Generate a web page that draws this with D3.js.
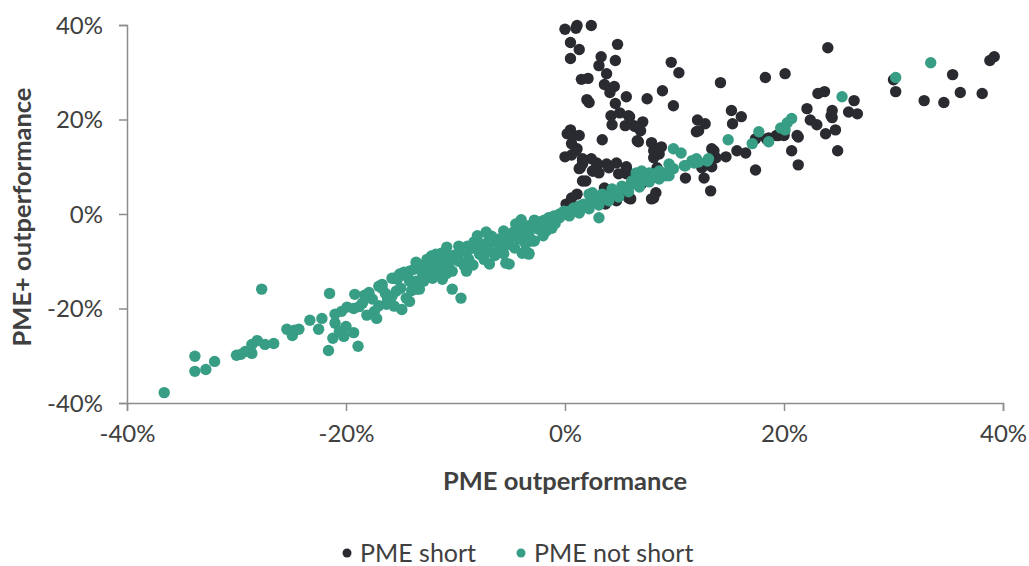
<!DOCTYPE html>
<html>
<head>
<meta charset="utf-8">
<script src="https://cdn.jsdelivr.net/npm/d3@7"></script>
<style>
  body { margin: 0; background: #fff; }
  svg text { font-family: Lato, "Open Sans", sans-serif; fill: #404040; }
</style>
</head>
<body>
<script>
// size of the drawing
const width = 1029;
const height = 566;

// plot area
const margin = { top: 25, right: 26, bottom: 163, left: 127 };

// axis ticks
const xTicks = [-0.4, -0.2, 0, 0.2, 0.4];
const yTicks = [-0.4, -0.2, 0, 0.2, 0.4];

// series names
const seriesNames = ['PME short', 'PME not short'];
const seriesColors = ['#2a2b30', '#379e85'];

// PME short: [PME outperformance %, PME+ outperformance %]
const shortPoints = [
  [0.0, 39.1], [1.1, 39.9], [1.0, 39.3], [2.4, 39.9], [0.5, 36.3], [1.3, 34.8], [0.5, 32.9],
  [4.8, 35.9], [3.3, 33.3], [3.1, 31.4], [4.6, 32.5], [3.8, 29.7], [1.5, 28.5], [2.1, 28.7],
  [3.6, 27.4], [4.5, 27.0], [4.1, 25.7], [5.6, 24.8], [2.0, 24.2], [2.2, 23.6], [4.6, 23.4],
  [7.5, 24.4], [8.9, 26.1], [9.7, 32.1], [10.4, 29.9], [9.9, 22.9], [14.2, 27.8], [18.3, 28.9],
  [4.2, 20.8], [5.0, 21.4], [5.9, 20.6], [4.3, 18.9], [5.5, 18.7], [6.4, 18.5], [7.1, 19.5],
  [6.9, 17.6], [12.1, 19.9], [12.8, 19.1], [12.0, 17.4], [15.2, 21.9], [16.1, 20.6], [15.3, 19.1],
  [0.5, 17.8], [0.8, 16.6], [0.2, 17.0], [1.3, 16.6], [3.4, 15.7], [6.7, 15.3], [7.9, 15.1],
  [8.8, 14.2], [0.6, 14.9], [1.1, 13.8], [0.0, 12.1], [0.6, 12.5], [1.6, 11.7], [2.4, 11.7],
  [2.9, 10.8], [3.8, 10.6], [4.7, 10.8], [5.6, 10.0], [1.4, 9.8], [2.6, 9.1], [2.9, 10.2],
  [8.1, 13.4], [8.1, 11.9], [8.4, 9.8], [13.4, 13.8], [14.7, 12.1], [15.7, 13.4], [16.5, 12.9],
  [17.4, 15.9], [18.6, 16.1], [17.4, 9.3], [11.0, 7.6], [12.7, 7.6], [13.3, 4.9], [12.5, 9.8],
  [1.9, 7.0], [1.1, 4.2], [0.4, 2.1], [6.0, 3.2], [8.1, 3.4], [4.9, 8.5], [5.6, 8.5], [7.0, 8.5],
  [24.0, 35.2], [20.1, 29.7], [23.1, 25.5], [23.7, 25.9], [26.4, 24.0], [22.1, 22.3], [24.4, 21.9],
  [24.4, 20.4], [25.9, 21.6], [26.7, 21.2], [22.4, 19.9], [23.0, 18.9], [23.8, 17.0], [24.7, 17.8],
  [21.3, 16.3], [20.7, 13.4], [21.3, 10.4], [24.9, 13.4], [18.4, 15.9], [19.3, 16.6], [20.0, 16.6],
  [30.0, 28.4], [30.2, 25.9], [32.8, 24.0], [34.6, 23.6], [35.4, 29.5], [36.1, 25.7], [38.1, 25.5],
  [38.8, 32.5], [39.2, 33.3],
  [12.2, 17.6], [13.8, 11.9], [13.4, 10.0], [19.5, 16.6], [20.0, 17.2], [21.2, 16.6], [24.3, 20.8],
  [1.0, 13.4], [1.6, 11.3], [1.3, 9.6], [2.5, 9.1], [3.1, 8.7], [5.6, 9.6], [3.6, 5.5], [4.9, 3.8],
  [6.1, 6.6], [3.7, 2.1], [4.7, 2.8], [6.3, 8.1], [5.8, 20.8], [6.3, 18.7], [6.6, 15.5], [8.6, 12.7],
  [13.6, 13.4], [1.6, 7.0], [1.6, 10.6], [4.0, 9.8], [7.0, 6.4], [8.3, 4.5], [7.9, 3.2], [5.8, 3.4],
  [4.7, 3.2], [0.1, 2.1], [0.6, 3.4]
];

// PME not short: [PME outperformance %, PME+ outperformance %]
const notShortPoints = [
  [-36.6, -37.8], [-33.8, -30.1], [-33.8, -33.3], [-32.8, -32.9], [-32.0, -31.2], [-27.7, -15.9],
  [-30.0, -29.9], [-29.6, -29.7], [-29.2, -29.1], [-28.6, -29.5], [-28.6, -27.6], [-28.1, -26.8],
  [-27.4, -27.6], [-26.6, -27.4], [-25.4, -24.4], [-24.9, -25.7], [-24.7, -24.6], [-24.3, -24.4],
  [-23.3, -22.5], [-22.2, -22.1], [-22.5, -24.4], [-21.5, -16.8], [-21.6, -28.9], [-21.2, -26.3],
  [-21.0, -23.1], [-21.0, -21.2], [-20.6, -24.8], [-20.0, -23.8], [-20.2, -25.9], [-19.3, -25.1],
  [-18.9, -28.0], [-19.9, -19.7], [-20.4, -20.6], [-19.3, -20.0], [-19.2, -17.0], [-18.3, -17.2],
  [-18.5, -18.9], [-17.6, -18.0], [-18.1, -21.4], [-17.2, -22.1], [-17.4, -20.6], [-17.0, -15.3],
  [-16.7, -15.7], [-15.8, -13.6], [-16.1, -18.5], [-15.6, -19.5], [-16.2, -18.0], [-16.3, -19.1],
  [-15.3, -13.8], [-15.4, -16.3], [-15.0, -15.7], [-14.5, -17.8], [-14.9, -20.2], [-14.2, -18.5],
  [-14.4, -13.2], [-13.6, -15.9], [-13.6, -14.2], [-13.0, -12.5], [-12.9, -14.2], [-12.2, -8.9],
  [-12.1, -11.5], [-12.4, -12.5], [-11.8, -8.5], [-11.8, -12.7], [-13.3, -15.9], [-12.9, -12.1],
  [-12.1, -13.6], [-11.3, -8.3], [-10.3, -15.9], [-9.5, -17.8], [-10.3, -12.1], [-9.0, -12.1],
  [-9.9, -9.3], [-8.9, -6.8], [-7.8, -7.4], [-6.9, -10.6], [-6.7, -4.7], [-6.0, -6.4], [-5.4, -10.4],
  [-5.7, -7.9], [-5.1, -5.1], [-4.5, -2.1], [-3.9, -8.3], [-3.3, -8.3], [-3.9, -5.1], [-3.3, -3.6],
  [-3.0, -5.7], [-2.4, -2.1], [-1.7, -3.6], [-1.5, -1.1], [-1.2, -3.0], [-0.5, -0.8], [0.1, 0.0],
  [0.6, 0.6], [1.6, 1.3], [2.2, 2.1], [2.8, 2.8], [2.2, 4.2], [3.1, -0.8], [0.4, 0.6], [1.3, 1.7],
  [2.5, 4.5], [3.4, 4.2], [4.3, 5.3], [5.2, 5.9], [6.1, 7.0], [6.8, 8.1], [7.7, 8.7], [8.6, 9.1],
  [9.2, 8.1], [9.5, 10.6], [11.0, 10.2], [11.6, 11.3], [7.0, 9.1], [8.1, 8.5], [6.5, 8.7],
  [-16.7, -14.9], [-15.6, -13.6], [-5.1, -10.6], [-3.3, -8.5], [-2.8, -5.7],
  [-11.0, -9.1], [-10.6, -8.9], [-10.1, -8.7], [-9.7, -8.3], [-9.2, -7.9], [-8.8, -7.6], [-8.3, -7.2],
  [-7.8, -6.8], [-7.4, -6.4], [-6.9, -6.2], [-6.5, -5.7], [-6.0, -5.3], [-5.6, -4.9], [-5.1, -4.5],
  [-4.7, -3.8], [-4.2, -3.4], [-3.7, -3.0], [-3.3, -2.5], [-2.8, -2.1], [-2.4, -1.7], [-1.9, -1.3],
  [-1.5, -0.8], [-1.0, -0.4], [-0.5, 0.0],
  [-10.6, -10.6], [-9.7, -10.0], [-8.8, -9.6], [-7.8, -8.5], [-6.9, -7.9], [-6.0, -7.0], [-5.1, -6.4],
  [-4.2, -5.3], [-3.3, -4.2], [-2.4, -3.2], [-1.5, -2.3], [-9.7, -6.8], [-8.3, -5.9], [-6.9, -4.9],
  [-5.6, -3.6], [-4.2, -2.5], [-2.8, -1.3],
  [-15.1, -12.7], [-14.7, -12.3], [-14.2, -12.1], [-13.8, -11.7], [-13.3, -11.3], [-12.9, -10.8],
  [-12.4, -10.4], [-12.0, -10.0], [-11.5, -9.6], [-14.2, -14.2], [-12.4, -12.1], [-11.0, -11.0],
  [-0.1, 0.6], [0.8, 1.3], [1.7, 2.1], [2.6, 3.0], [3.6, 3.8], [4.5, 4.7], [5.4, 5.5], [6.3, 6.4],
  [7.2, 7.2], [8.1, 7.9], [9.0, 8.7], [9.9, 9.6], [10.9, 10.2], [11.8, 10.8], [12.2, 11.0],
  [0.4, -0.4], [1.3, 0.2], [2.2, 1.1], [3.1, 1.9], [4.0, 2.8], [4.9, 3.6], [5.8, 4.7], [6.8, 5.7],
  [7.7, 6.8], [8.6, 7.4], [9.5, 8.1], [13.1, 11.7],
  [9.9, 13.8], [10.6, 12.9], [14.9, 15.7], [17.7, 17.4], [17.1, 14.9], [18.6, 15.3], [19.7, 18.2],
  [20.3, 19.3], [20.7, 20.2], [20.1, 17.8], [13.0, 11.2], [12.0, 11.7], [25.3, 24.8], [30.2, 28.9],
  [33.4, 32.0],
  [-11.4, -11.8], [-10.8, -12.6], [-9.2, -11.0], [-8.4, -10.8], [-7.4, -9.6], [-6.4, -8.8],
  [-5.6, -8.4], [-4.6, -7.2], [-3.6, -6.4], [-2.0, -4.6], [-0.9, -2.0], [-8.0, -4.6], [-10.8, -7.0],
  [-7.2, -3.8], [-4.0, -1.2], [-16.4, -16.8], [-15.8, -17.4], [-14.0, -16.2], [-13.0, -13.4],
  [-11.2, -13.8], [-13.6, -10.2], [-12.6, -9.6], [-17.9, -16.6], [-18.8, -19.6], [-17.0, -19.4]
];

const svg = d3.select('body').append('svg').attr('width', width).attr('height', height);

const x = d3.scaleLinear().domain([-0.4, 0.4]).range([margin.left, width - margin.right]);
const y = d3.scaleLinear().domain([-0.4, 0.4]).range([height - margin.bottom, margin.top]);

// plain hyphen for the minus sign, like the original
const pct = function(d){ return d3.format('.0%')(d).replace('\u2212', '-'); };

// x axis at the bottom
const xAxis = svg.append('g')
  .attr('transform', 'translate(0,' + (height - margin.bottom) + ')')
  .call(d3.axisBottom(x).tickValues(xTicks).tickFormat(pct).tickSize(8).tickPadding(14));

// y axis on the left
const yAxis = svg.append('g')
  .attr('transform', 'translate(' + margin.left + ',0)')
  .call(d3.axisLeft(y).tickValues(yTicks).tickFormat(pct).tickSize(8).tickPadding(16));

[xAxis, yAxis].forEach(function(g){
  g.select('.domain').attr('stroke', '#8c8c8c').attr('stroke-width', 1.5);
  g.selectAll('.tick line').attr('stroke', '#8c8c8c').attr('stroke-width', 1.5);
  g.selectAll('.tick text').attr('font-size', '24px').attr('fill', '#404040')
    .style('font-family', 'Lato, "Open Sans", sans-serif');
});
yAxis.selectAll('.tick text').attr('dy', '0.35em');

// points, short first so the green ones sit on top
const series = [shortPoints, notShortPoints];
series.forEach(function(pts, i){
  svg.append('g').selectAll('circle')
    .data(pts)
    .enter()
    .append('circle')
    .attr('cx', function(d){ return x(d[0] / 100); })
    .attr('cy', function(d){ return y(d[1] / 100); })
    .attr('r', 5.7)
    .attr('fill', seriesColors[i]);
});

// axis titles
svg.append('text')
  .attr('x', x(0))
  .attr('y', 490)
  .attr('text-anchor', 'middle')
  .attr('font-size', '25.5px')
  .attr('font-weight', 'bold')
  .text('PME outperformance');

svg.append('text')
  .attr('transform', 'translate(31,' + (y(0) + 3) + ') rotate(-90)')
  .attr('text-anchor', 'middle')
  .attr('font-size', '25.5px')
  .attr('font-weight', 'bold')
  .text('PME+ outperformance');

// legend
const legendX = [347, 521];
const legend = svg.append('g');
seriesNames.forEach(function(name, i){
  legend.append('circle')
    .attr('cx', legendX[i])
    .attr('cy', 553)
    .attr('r', 4.5)
    .attr('fill', seriesColors[i]);
  legend.append('text')
    .attr('x', legendX[i] + 13)
    .attr('y', 562)
    .attr('font-size', '25px')
    .text(name);
});
</script>
</body>
</html>
